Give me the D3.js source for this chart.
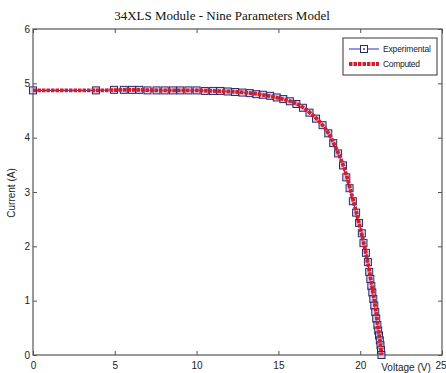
<!DOCTYPE html>
<html>
<head>
<meta charset="utf-8">
<script src="https://cdn.jsdelivr.net/npm/d3@7"></script>
<style>
  body { margin: 0; background: #fff; }
  svg { display: block; }
  .tick text { font-family: Arial, "Liberation Sans", sans-serif; font-size: 10px; fill: #222; }
</style>
</head>
<body>
<div id="chart"></div>
<script>
// experimental points (V, A)
var expVoltage = [0, 3.85, 4.95, 5.55, 6.05, 6.5, 7.0, 7.55, 8.05, 8.55, 9.0, 9.5, 10.0, 10.5, 11.0, 11.45,
  11.9, 12.35, 12.8, 13.25, 13.65, 14.05, 14.5, 14.9, 15.3, 15.7, 16.1, 16.5, 16.9, 17.3, 17.7, 18.05,
  18.35, 18.65, 18.95, 19.15, 19.35, 19.55, 19.75, 19.93, 20.1, 20.2, 20.35, 20.47, 20.55, 20.62, 20.68,
  20.74, 20.8, 20.86, 20.92, 20.98, 21.05, 21.1, 21.15, 21.2, 21.24, 21.27, 21.3];
var expCurrent = [4.87, 4.87, 4.88, 4.88, 4.88, 4.88, 4.87, 4.87, 4.87, 4.87, 4.87, 4.87, 4.87, 4.86, 4.86, 4.86,
  4.85, 4.84, 4.83, 4.82, 4.80, 4.79, 4.77, 4.74, 4.71, 4.67, 4.62, 4.55, 4.46, 4.35, 4.23, 4.08,
  3.90, 3.71, 3.49, 3.27, 3.07, 2.83, 2.62, 2.43, 2.24, 2.06, 1.88, 1.71, 1.53, 1.40, 1.27,
  1.15, 1.03, 0.91, 0.79, 0.67, 0.55, 0.45, 0.36, 0.27, 0.18, 0.09, 0.0];

// computed model curve
var compVoltage = [0, 2, 4, 6, 8, 10, 11, 12, 13, 14, 15, 15.5, 16, 16.5, 17, 17.5, 18, 18.5, 19, 19.5,
  19.9, 20.2, 20.5, 20.7, 20.9, 21.05, 21.15, 21.25, 21.3];
var compCurrent = [4.87, 4.87, 4.87, 4.88, 4.87, 4.87, 4.86, 4.85, 4.83, 4.79, 4.73, 4.69, 4.64, 4.56, 4.44, 4.30,
  4.11, 3.82, 3.46, 2.93, 2.46, 2.08, 1.64, 1.30, 0.93, 0.60, 0.38, 0.16, 0.0];

var xTicks = [0, 5, 10, 15, 20, 25];
var yTicks = [0, 1, 2, 3, 4, 5, 6];
var legendLabels = ['Experimental', 'Computed'];

var width = 446, height = 373;
var margin = { top: 29, right: 4, bottom: 18, left: 33 };
var innerW = width - margin.left - margin.right;
var innerH = height - margin.top - margin.bottom;

var svg = d3.select('#chart')
  .append('svg')
  .attr('width', width)
  .attr('height', height);

var x = d3.scaleLinear().domain([0, 25]).range([margin.left, margin.left + innerW]);
var y = d3.scaleLinear().domain([0, 6]).range([margin.top + innerH, margin.top]);

// frame
svg.append('rect')
  .attr('x', x(0)).attr('y', y(6))
  .attr('width', x(25) - x(0)).attr('height', y(0) - y(6))
  .attr('fill', 'none').attr('stroke', '#555').attr('stroke-width', 1.2);

// axes with inward ticks
var xAxis = svg.append('g')
  .attr('transform', 'translate(0,' + y(0) + ')')
  .call(d3.axisBottom(x).tickValues(xTicks).tickSizeInner(-4).tickSizeOuter(0).tickPadding(7).tickFormat(d3.format('d')));
var yAxis = svg.append('g')
  .attr('transform', 'translate(' + x(0) + ',0)')
  .call(d3.axisLeft(y).tickValues(yTicks).tickSizeInner(-4).tickSizeOuter(0).tickPadding(3).tickFormat(d3.format('d')));
var xTop = svg.append('g')
  .attr('transform', 'translate(0,' + y(6) + ')')
  .call(d3.axisTop(x).tickValues(xTicks).tickSizeInner(-4).tickSizeOuter(0).tickFormat(''));
var yRight = svg.append('g')
  .attr('transform', 'translate(' + x(25) + ',0)')
  .call(d3.axisRight(y).tickValues(yTicks).tickSizeInner(-4).tickSizeOuter(0).tickFormat(''));

[xAxis, yAxis, xTop, yRight].forEach(function(g) {
  g.select('.domain').remove();
  g.selectAll('.tick line').attr('stroke', '#555');
});

// last x label sits at the window edge, keep it inside
xAxis.selectAll('.tick text')
  .filter(function(d) { return d === 25; })
  .attr('text-anchor', 'end')
  .attr('dx', '4');

var expData = expVoltage.map(function(v, i) { return [v, expCurrent[i]]; });
var compData = compVoltage.map(function(v, i) { return [v, compCurrent[i]]; });

// experimental line
svg.append('path')
  .datum(expData)
  .attr('d', d3.line().x(function(d) { return x(d[0]); }).y(function(d) { return y(d[1]); }))
  .attr('fill', 'none')
  .attr('stroke', '#2b2bd0')
  .attr('stroke-width', 1);

// square markers
svg.selectAll('.marker')
  .data(expData)
  .enter()
  .append('rect')
  .attr('class', 'marker')
  .attr('x', function(d) { return x(d[0]) - 3.5; })
  .attr('y', function(d) { return y(d[1]) - 3.5; })
  .attr('width', 7)
  .attr('height', 7)
  .attr('fill', '#c9b6e0')
  .attr('fill-opacity', 0.6)
  .attr('stroke', '#2a2a6a')
  .attr('stroke-width', 1);

// computed thick red line
svg.append('path')
  .datum(compData)
  .attr('d', d3.line().x(function(d) { return x(d[0]); }).y(function(d) { return y(d[1]); }).curve(d3.curveCatmullRom))
  .attr('fill', 'none')
  .attr('stroke', '#d41c2a')
  .attr('stroke-width', 3.8)
  .attr('stroke-dasharray', '3.5,1');

// title
svg.append('text')
  .attr('x', 222)
  .attr('y', 20)
  .attr('text-anchor', 'middle')
  .style('font-family', '"Liberation Serif", "Times New Roman", serif')
  .style('font-size', '13px')
  .attr('fill', '#111')
  .text('34XLS Module - Nine Parameters Model');

// axis labels
svg.append('text')
  .attr('x', 406)
  .attr('y', 371)
  .attr('text-anchor', 'middle')
  .style('font-family', 'Arial, "Liberation Sans", sans-serif')
  .style('font-size', '10px')
  .attr('fill', '#222')
  .text('Voltage (V)');

svg.append('text')
  .attr('transform', 'translate(15,193) rotate(-90)')
  .attr('text-anchor', 'middle')
  .style('font-family', 'Arial, "Liberation Sans", sans-serif')
  .style('font-size', '10px')
  .attr('fill', '#222')
  .text('Current (A)');

// legend
var lg = svg.append('g').attr('transform', 'translate(343,38)');
lg.append('rect')
  .attr('width', 94).attr('height', 37)
  .attr('fill', '#fff').attr('stroke', '#333').attr('stroke-width', 1);

lg.append('line')
  .attr('x1', 6).attr('x2', 36).attr('y1', 11).attr('y2', 11)
  .attr('stroke', '#2b2bd0').attr('stroke-width', 1);
lg.append('rect')
  .attr('x', 17.5).attr('y', 7.5).attr('width', 7).attr('height', 7)
  .attr('fill', '#fff').attr('stroke', '#2a2a6a');
lg.append('circle')
  .attr('cx', 21).attr('cy', 11).attr('r', 0.9).attr('fill', '#2a2a6a');

lg.append('line')
  .attr('x1', 6).attr('x2', 36).attr('y1', 26).attr('y2', 26)
  .attr('stroke', '#d41c2a').attr('stroke-width', 3.8).attr('stroke-dasharray', '3.5,1');

lg.selectAll('.lgtext')
  .data(legendLabels)
  .enter()
  .append('text')
  .attr('class', 'lgtext')
  .attr('x', 40)
  .attr('y', function(d, i) { return 14 + i * 15; })
  .style('font-family', 'Arial, "Liberation Sans", sans-serif')
  .style('font-size', '8.5px')
  .attr('textLength', function(d, i) { return i === 0 ? 48 : 37; })
  .attr('fill', '#222')
  .text(function(d) { return d; });
</script>
</body>
</html>
